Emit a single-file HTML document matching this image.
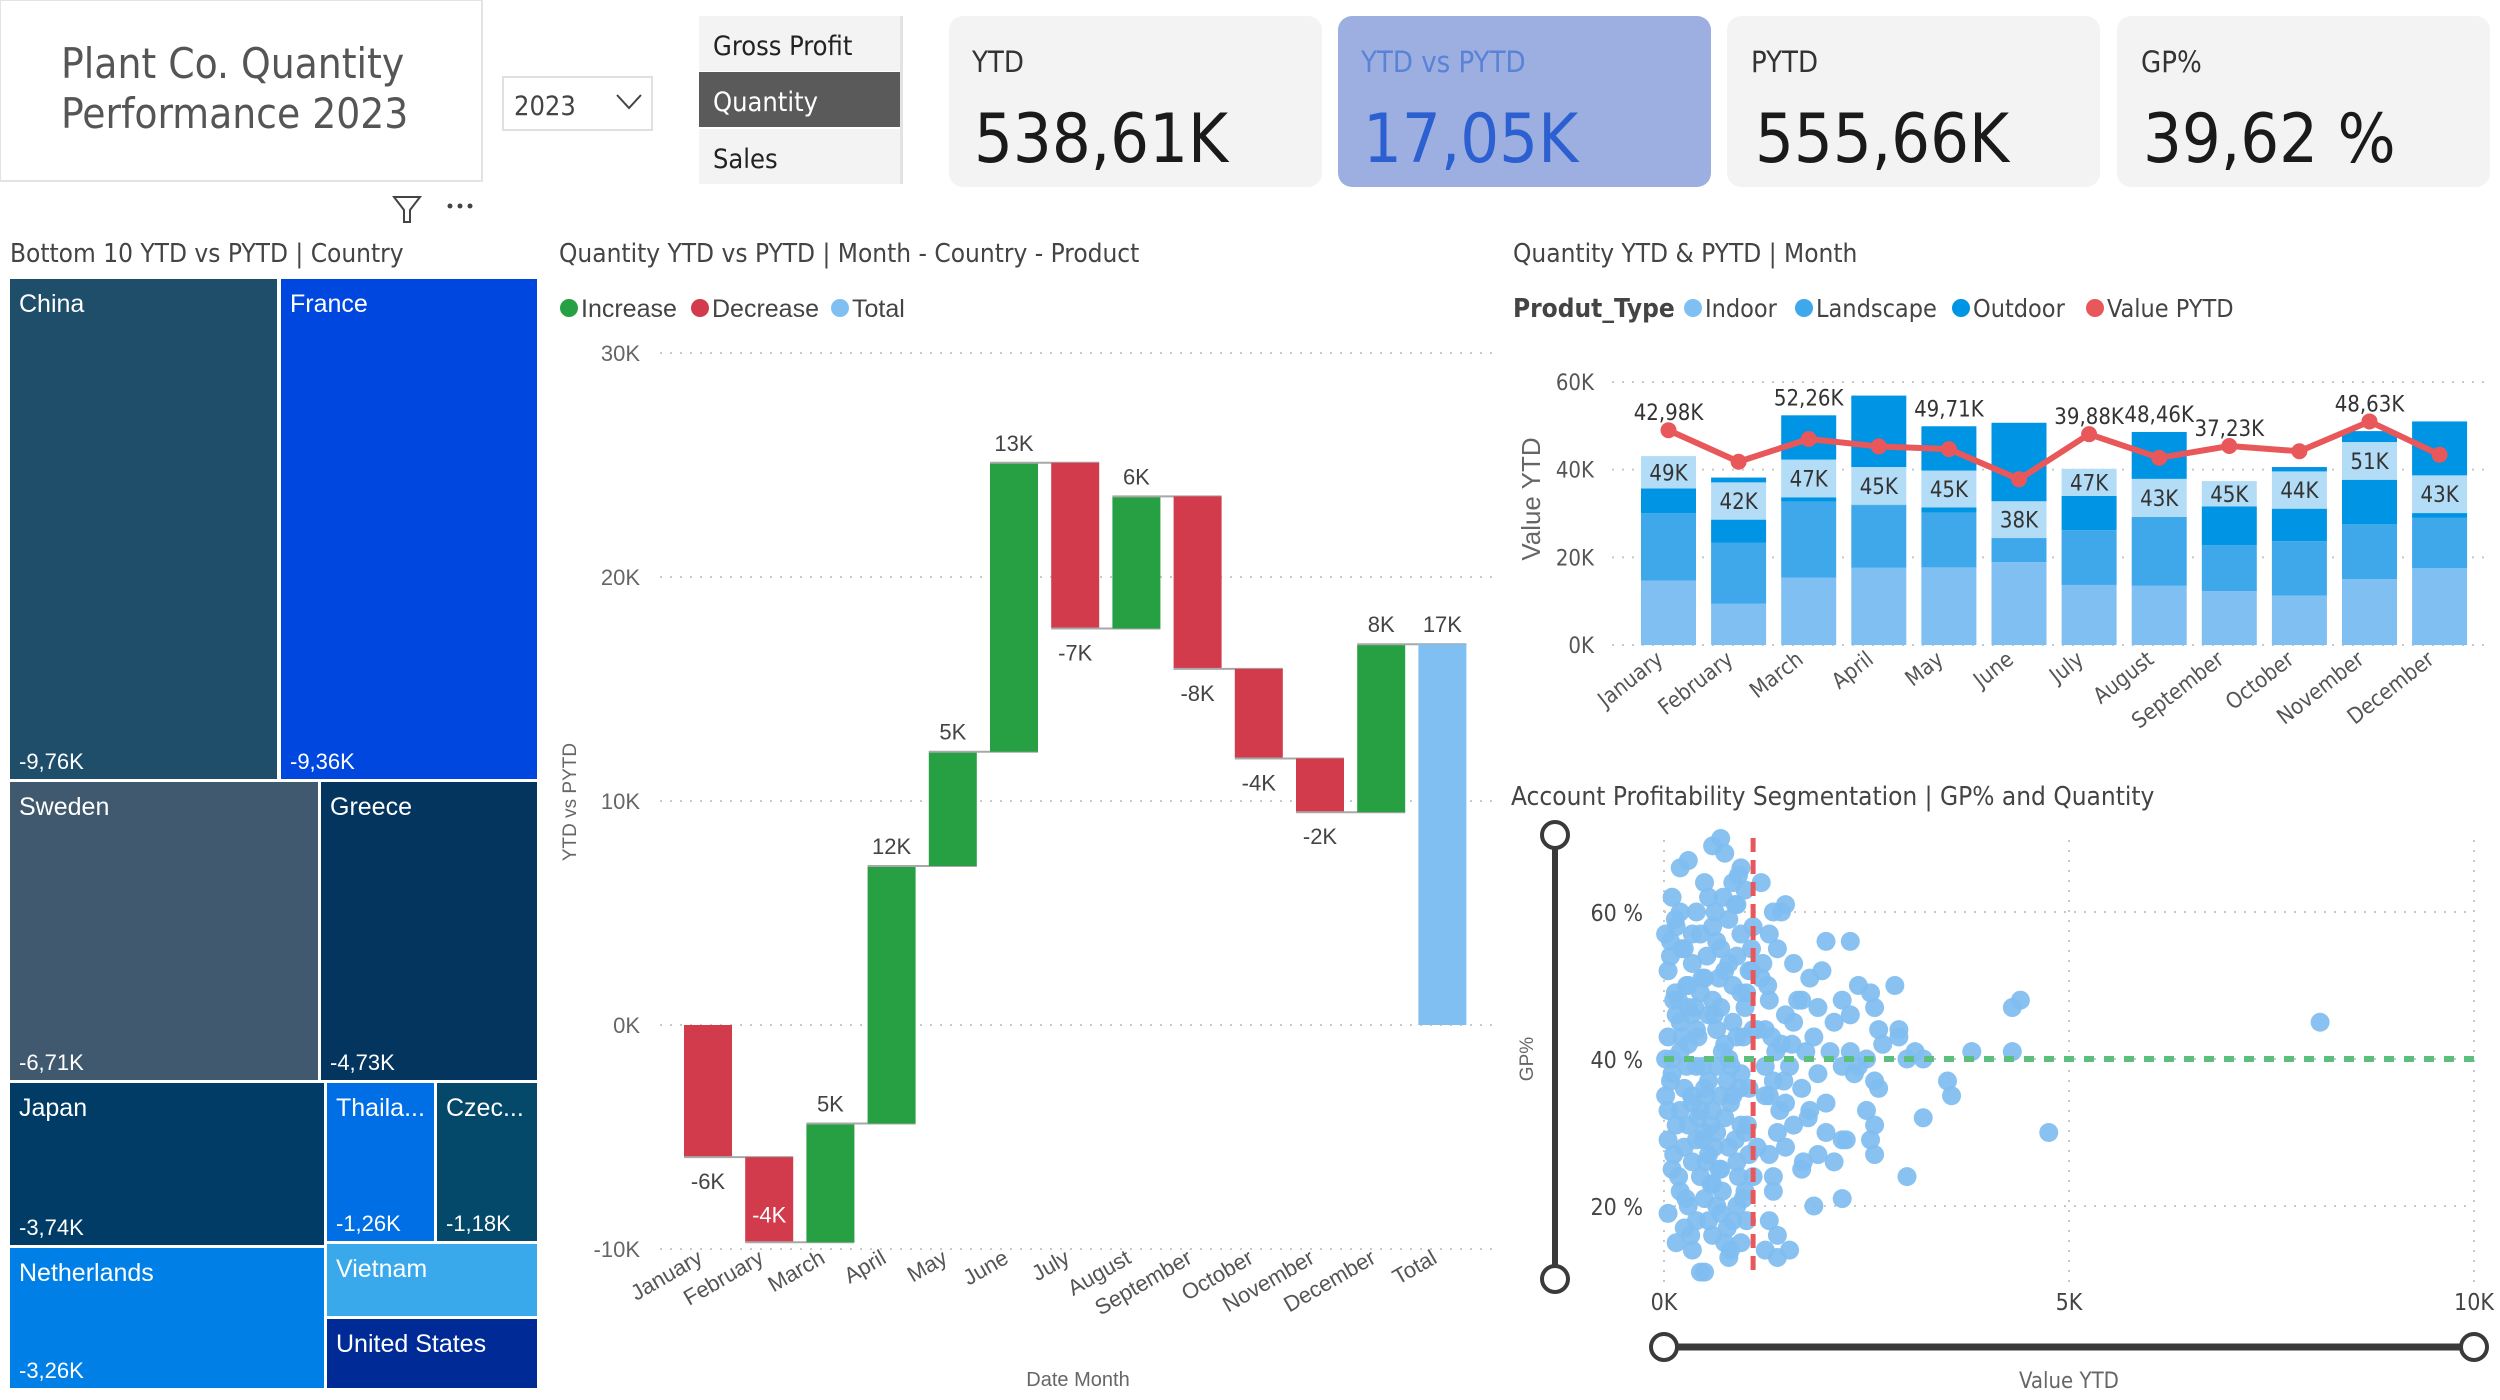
<!DOCTYPE html>
<html><head><meta charset="utf-8">
<style>
html,body{margin:0;padding:0;background:#fff;width:2500px;height:1400px;overflow:hidden}
svg{display:block;font-family:"Liberation Sans Narrow","DejaVu Sans Condensed","Liberation Sans",sans-serif}
.seg{font-family:"Liberation Sans","DejaVu Sans",sans-serif}
</style></head><body>
<svg id="root" width="2500" height="1400" viewBox="0 0 2500 1400" xmlns="http://www.w3.org/2000/svg">
 <g>
  <rect x="0" y="0" width="482" height="181" fill="#fff" stroke="#e3e3e3" stroke-width="2"/>
  <text x="61" y="78" font-size="42" fill="#555">Plant Co. Quantity</text>
  <text x="61" y="128" font-size="42" fill="#555">Performance 2023</text>
 </g>
 <g>
  <rect x="503" y="77" width="149" height="53" fill="#fff" stroke="#e0e0e0" stroke-width="2"/>
  <text x="514" y="115" font-size="27" fill="#444">2023</text>
  <path d="M617 95 L629 108 L641 95" fill="none" stroke="#444" stroke-width="2"/>
 </g>
 <g>
  <rect x="699" y="16" width="203" height="55" fill="#f3f3f3"/>
  <text x="713" y="55" font-size="27" fill="#222">Gross Profit</text>
  <rect x="699" y="72" width="203" height="55" fill="#5a5a5a"/>
  <text x="713" y="111" font-size="27" fill="#fff">Quantity</text>
  <rect x="699" y="129" width="203" height="55" fill="#f3f3f3"/>
  <text x="713" y="168" font-size="27" fill="#222">Sales</text>
  <rect x="900" y="16" width="3" height="168" fill="#e3e3e3"/>
 </g>
 <g>
  <rect x="949" y="16" width="373" height="171" rx="14" fill="#f3f3f3"/>
  <text x="972" y="72" font-size="29" fill="#333">YTD</text>
  <text x="974" y="162" font-size="68" fill="#1a1a1a">538,61K</text>
 </g>
 <g>
  <rect x="1338" y="16" width="373" height="171" rx="14" fill="#9cafe0"/>
  <text x="1361" y="72" font-size="29" fill="#5a82d6">YTD vs PYTD</text>
  <text x="1363" y="162" font-size="68" fill="#2c5fcf">17,05K</text>
 </g>
 <g>
  <rect x="1727" y="16" width="373" height="171" rx="14" fill="#f3f3f3"/>
  <text x="1751" y="72" font-size="29" fill="#333">PYTD</text>
  <text x="1755" y="162" font-size="68" fill="#1a1a1a">555,66K</text>
 </g>
 <g>
  <rect x="2117" y="16" width="373" height="171" rx="14" fill="#f3f3f3"/>
  <text x="2141" y="72" font-size="29" fill="#333">GP%</text>
  <text x="2143" y="162" font-size="68" fill="#1a1a1a">39,62 %</text>
 </g>
 <g><path d="M394 197 L420 197 L410 210 L410 222 L404 222 L404 210 Z" fill="none" stroke="#444" stroke-width="2"/></g>
 <g fill="#444"><circle cx="450" cy="206" r="2.5"/><circle cx="460" cy="206" r="2.5"/><circle cx="470" cy="206" r="2.5"/></g>

 <text x="10" y="262" font-size="26" fill="#444">Bottom 10 YTD vs PYTD | Country</text>
 <text x="559" y="262" font-size="26" fill="#444">Quantity YTD vs PYTD | Month - Country - Product</text>
 <text x="1513" y="262" font-size="26" fill="#444">Quantity YTD &amp; PYTD | Month</text>
 <text x="1511" y="805" font-size="26" fill="#444">Account Profitability Segmentation | GP% and Quantity</text>

 <g id="treemap" class="seg"></g>
 <g id="waterfall" class="seg"></g>
 <g id="stacked"></g>
 <g id="scatter"></g>
</svg>
<script>
const countries=["China","France","Sweden","Greece","Japan","Thaila...","Czec...","Netherlands","Vietnam","United States"];
const countryValues=["-9,76K","-9,36K","-6,71K","-4,73K","-3,74K","-1,26K","-1,18K","-3,26K","",""];
const countryColors=["#1f4e6b","#0047e0","#40596e","#03355f","#013c66","#006fe6","#04486a","#0080e6","#3aa9ec","#002b97"];

const wfMonths=["January","February","March","April","May","June","July","August","September","October","November","December","Total"];
const wfDeltas=[-5.9,-3.8,5.3,11.5,5.1,12.9,-7.4,5.9,-7.7,-4.0,-2.4,7.5];
const wfLabels=["-6K","-4K","5K","12K","5K","13K","-7K","6K","-8K","-4K","-2K","8K","17K"];
const wfTicks=[30,20,10,0,-10];

const months=["January","February","March","April","May","June","July","August","September","October","November","December"];
const indoor=[14.7,9.4,15.4,17.6,17.7,18.9,13.7,13.5,12.3,11.3,15.0,17.5];
const landscape=[15.4,13.9,17.3,14.3,12.5,5.5,12.5,15.7,10.5,12.4,12.6,11.5];
const outdoorLow=[5.6,5.3,1.0,0.1,1.2,0,7.8,0,8.8,7.4,10.1,1.1];
const otherPale=[7.4,8.5,8.6,8.6,8.4,8.4,6.2,8.7,5.8,8.5,8.6,8.6];
const outdoorTop=[0,1.1,10.1,16.3,10.1,17.9,0,10.7,0,1.0,2.5,12.3];
const paleLabels=["49K","42K","47K","45K","45K","38K","47K","43K","45K","44K","51K","43K"];
const pytd=[49,41.8,47,45.3,44.7,37.8,48.1,42.7,45.4,44.2,51,43.4];
const pytdLabels=["42,98K","","52,26K","","49,71K","","39,88K","48,46K","37,23K","","48,63K",""];
const stTicks=[0,20,40,60];

const scX=[0.1,0.2,0.3,0.15,0.25,0.05,0.12,0.2,0.3,0.4,0.5,0.6,0.7,0.75,0.55,0.45,0.35,0.65,0.8,0.9,1.0,0.95,0.85,0.5,0.6,0.7,0.4,0.3,0.2,0.1,0.25,0.35,0.45,0.55,0.65,0.75,0.85,0.95,1.05,0.9,0.8,0.7,0.6,0.15,0.25,0.35,0.45,0.55,0.65,0.75,0.85,0.95,1.05,0.1,0.2,0.3,0.4,0.5,0.6,0.7,0.8,0.9,1.0,1.0,0.05,0.15,0.25,0.35,0.45,0.5,0.6,0.7,0.8,0.9,0.95,1.1,1.1,1.1,0.05,0.15,0.3,0.4,0.5,0.6,0.7,0.8,0.9,1.0,0.65,0.55,0.45,0.35,0.2,0.85,0.75,0.95,0.5,0.4,0.3,0.2,0.65,0.55,0.75,0.85,1.05,0.95,
1.2,1.35,1.5,1.3,1.4,1.6,1.8,1.95,2.0,1.7,1.5,1.3,1.25,1.45,1.6,1.9,2.1,2.2,2.3,1.75,1.55,1.35,1.25,1.5,1.7,1.9,2.0,2.2,2.4,1.4,1.6,1.8,2.0,2.2,1.3,1.5,1.7,1.9,2.1,1.35,1.3,1.4,1.55,1.85,2.2,2.25,1.25,1.4,
2.3,2.4,2.55,2.6,2.65,2.7,2.85,2.6,2.65,2.5,2.6,2.55,2.3,2.35,2.5,2.9,2.9,3.1,3.2,3.0,3.2,3.5,3.55,3.0,2.6,3.8,4.3,4.3,4.4,4.75,8.1,2.05,1.85,0.05,0.1,0.02,0.08,0.18,
0.02,0.08,0.14,0.22,0.28,0.34,0.42,0.48,0.52,0.58,0.62,0.68,0.72,0.78,0.82,0.88,0.92,0.98,1.02,1.08,0.02,0.08,0.14,0.22,0.28,0.34,0.42,0.48,0.52,0.58,0.62,0.68,0.72,0.78,0.82,0.88,0.92,0.98,1.02,1.08,0.05,0.12,0.18,0.27,0.33,0.38,0.47,0.53,0.63,0.73,0.83,0.93,1.03,1.15,1.22,1.28,1.33,1.38,1.43,1.48,1.58,1.65,1.72,1.78,1.15,1.2,1.25,1.3,1.35,1.45];
const scY=[62,66,67,58,55,52,48,45,50,60,64,69,70,68,62,57,53,56,59,61,63,66,64,51,48,47,44,42,41,38,36,34,33,37,39,42,45,49,52,54,53,55,58,31,28,26,24,27,30,32,35,38,36,25,22,20,18,21,23,25,28,26,22,30,19,15,17,14,11,11,16,19,13,20,15,24,44,58,43,46,47,39,36,33,35,40,43,47,44,46,49,57,60,50,52,57,30,29,31,33,20,18,15,18,27,31,
64,60,61,57,55,53,51,52,56,48,46,48,44,42,45,47,45,48,46,41,39,37,35,34,36,38,34,39,39,30,31,33,30,29,27,28,25,27,26,22,18,16,14,20,21,29,14,13,
56,50,49,47,44,42,50,37,36,33,31,29,41,38,40,43,44,41,40,40,32,37,35,24,27,41,41,47,48,30,45,41,43,29,40,35,56,48,
57,54,49,43,39,35,32,29,26,23,46,51,41,37,34,29,24,21,18,55,40,37,59,55,50,46,43,39,35,31,28,25,22,17,14,61,65,43,49,52,33,27,24,21,16,47,51,54,60,62,39,36,31,28,53,50,43,41,33,37,42,48,26,32,44,51,39,35,24,60];
const scYTicks=[60,40,20];
const scXTicks=[0,5,10];
const scXTickLabels=["0K","5K","10K"];
const avgValue=1.1, avgGP=40;

const NS="http://www.w3.org/2000/svg";
function mk(parent,tag,attrs,txt){const e=document.createElementNS(NS,tag);for(const k in attrs)e.setAttribute(k,attrs[k]);if(txt!==undefined)e.textContent=txt;parent.appendChild(e);return e;}

(function(){
 const g=document.getElementById('treemap');
 const boxes=[[10,279,267,500],[281,279,256,500],[10,782,308,298],[321,782,216,298],[10,1083,314,162],[327,1083,107,158],[437,1083,100,158],[10,1248,314,140],[327,1244,210,72],[327,1319,210,69]];
 countries.forEach((c,i)=>{
  const b=boxes[i];
  const r=mk(g,'rect',{x:b[0],y:b[1],width:b[2],height:b[3],fill:countryColors[i]});
  
  
  const t=mk(g,'text',{x:b[0]+9,y:b[1]+33,'font-size':25,fill:'#fff'},c);
  
  
  if(countryValues[i]){const v=mk(g,'text',{x:b[0]+9,y:b[1]+b[3]-10,'font-size':22,fill:'#fff'},countryValues[i]);
   
   }
 });
})();

(function(){
 const g=document.getElementById('waterfall');
 const y=v=>1025-v*22.4;
 const x=i=>684+i*61.2, bw=48;
 wfTicks.forEach(t=>{
  const l=mk(g,'line',{x1:660,x2:1495,y1:y(t),y2:y(t),stroke:'#c8c8c8','stroke-width':2,'stroke-dasharray':'2,8'});
  
  
  const tx=mk(g,'text',{x:640,y:y(t)+8,'font-size':22,fill:'#666','text-anchor':'end'},t+'K');
  
  
 });
 [["Increase","#27a043",569],["Decrease","#d13b4b",700],["Total","#7fbff2",840]].forEach(L=>{
  const c=mk(g,'circle',{cx:L[2],cy:308,r:9,fill:L[1]});
  
  
  mk(g,'text',{x:L[2]+12,y:317,'font-size':25,fill:'#444'},L[0]);
 });
 let run=0;
 wfDeltas.forEach((d,i)=>{
  const a=run,b=run+d;run=b;
  const top=Math.max(a,b),bot=Math.min(a,b);
  const r=mk(g,'rect',{x:x(i),y:y(top),width:bw,height:y(bot)-y(top),fill:d>=0?'#27a043':'#d13b4b'});
  
  
  const ln=mk(g,'line',{x1:x(i),x2:x(i+1)+bw,y1:y(b),y2:y(b),stroke:'#a8a8a8','stroke-width':2});
  
  
  let ly,fill='#444';
  if(d>=0) ly=y(top)-12; else {ly=y(bot)+32; if(y(bot)+32>y(-9.2)){ly=y(bot)-20;fill='#fff';}}
  const t=mk(g,'text',{x:x(i)+bw/2,y:ly,'font-size':22,fill:fill,'text-anchor':'middle'},wfLabels[i]);
  
  
 });
 const ti=wfDeltas.length;
 const tr=mk(g,'rect',{x:x(ti),y:y(Math.max(run,0)),width:bw,height:Math.abs(y(run)-y(0)),fill:'#7fbff2'});
 
 
 const tt=mk(g,'text',{x:x(ti)+bw/2,y:y(run)-12,'font-size':22,fill:'#444','text-anchor':'middle'},wfLabels[ti]);
 
 
 wfMonths.forEach((m,i)=>{
  const cx=x(i)+bw/2-4, cy=1262;
  const t=mk(g,'text',{x:cx,y:cy,'font-size':22,fill:'#555','text-anchor':'end',transform:`rotate(-30 ${cx} ${cy})`},m);
  
  
 });
 const yt=mk(g,'text',{x:576,y:802,'font-size':19,fill:'#666','text-anchor':'middle',transform:'rotate(-90 576 802)'},'YTD vs PYTD');
 
 
 const xt=mk(g,'text',{x:1078,y:1386,'font-size':20,fill:'#666','text-anchor':'middle'},'Date Month');
 
 
})();

(function(){
 const g=document.getElementById('stacked');
 const y=v=>645-v*(263/60);
 const x=i=>1641+i*70.1, bw=55;
 stTicks.forEach(t=>{
  const l=mk(g,'line',{x1:1612,x2:2490,y1:y(t),y2:y(t),stroke:'#c8c8c8','stroke-width':2,'stroke-dasharray':'2,8'});
  
  
  const tx=mk(g,'text',{x:1594,y:y(t)+8,'font-size':22,fill:'#555','text-anchor':'end'},t+'K');
  
  
 });
 const yt=mk(g,'text',{x:1540,y:499,'font-size':26,fill:'#666','text-anchor':'middle',transform:'rotate(-90 1540 499)',class:'seg'},'Value YTD');
 
 
 mk(g,'text',{x:1513,y:317,'font-size':26,fill:'#444','font-weight':'bold'},'Produt_Type');
 [["Indoor","#7fbff2",1693],["Landscape","#3ea8ea",1804],["Outdoor","#0094e4",1961],["Value PYTD","#e8585a",2095]].forEach(L=>{
  const c=mk(g,'circle',{cx:L[2],cy:308,r:9,fill:L[1]});
  
  
  mk(g,'text',{x:L[2]+12,y:317,'font-size':25,fill:'#444'},L[0]);
 });
 const series=[[indoor,'#7fbff2'],[landscape,'#3ea8ea'],[outdoorLow,'#0094e4'],[otherPale,'#b3dcf7'],[outdoorTop,'#0094e4']];
 months.forEach((m,i)=>{
  let acc=0,paleBot=0,paleTop=0;
  series.forEach((s,k)=>{
   const v=s[0][i]; if(v<=0){return;}
   const r=mk(g,'rect',{x:x(i),y:y(acc+v),width:bw,height:y(acc)-y(acc+v),fill:s[1]});
   
   
   if(k===3){paleBot=acc;paleTop=acc+v;}
   acc+=v;
  });
  const lt=mk(g,'text',{x:x(i)+bw/2,y:(y(paleBot)+y(paleTop))/2+8,'font-size':22,fill:'#333','text-anchor':'middle'},paleLabels[i]);
  
  
  if(pytdLabels[i]){
   const top=Math.max(acc,pytd[i]);
   const pl=mk(g,'text',{x:x(i)+bw/2,y:y(top)-10,'font-size':22,fill:'#333','text-anchor':'middle'},pytdLabels[i]);
   
   
  }
  const cx=x(i)+bw/2-4, cy=662;
  const t=mk(g,'text',{x:cx,y:cy,'font-size':22,fill:'#555','text-anchor':'end',transform:`rotate(-38 ${cx} ${cy})`},m);
  
  
 });
 const pts=pytd.map((v,i)=>(x(i)+bw/2)+','+y(v)).join(' ');
 const pl=mk(g,'polyline',{points:pts,fill:'none',stroke:'#e8585a','stroke-width':6,'stroke-linejoin':'round'});
 
 
 pytd.forEach((v,i)=>{
  const c=mk(g,'circle',{cx:x(i)+bw/2,cy:y(v),r:8,fill:'#e8585a'});
  
  
 });
})();

(function(){
 const g=document.getElementById('scatter');
 const x=v=>1664+v*81;
 const y=v=>1059-(v-40)*7.35;
 scYTicks.forEach(t=>{
  const l=mk(g,'line',{x1:1664,x2:2474,y1:y(t),y2:y(t),stroke:'#c8c8c8','stroke-width':2,'stroke-dasharray':'2,8'});
  
  
  const tx=mk(g,'text',{x:1643,y:y(t)+9,'font-size':23,fill:'#444','text-anchor':'end'},t+' %');
  
  
 });
 scXTicks.forEach((t,i)=>{
  const l=mk(g,'line',{x1:x(t),x2:x(t),y1:840,y2:1285,stroke:'#c8c8c8','stroke-width':2,'stroke-dasharray':'2,8'});
  
  
  const tx=mk(g,'text',{x:x(t),y:1310,'font-size':23,fill:'#444','text-anchor':'middle'},scXTickLabels[i]);
  
  
 });
 scX.forEach((v,i)=>{
  const c=mk(g,'circle',{cx:x(v),cy:y(scY[i]),r:9.5,fill:'#7fbdf0','fill-opacity':0.92});
  
  
 });
 const av=mk(g,'line',{x1:x(avgValue),x2:x(avgValue),y1:838,y2:1278,stroke:'#e8585a','stroke-width':5,'stroke-dasharray':'14,8'});
 
 
 const ag=mk(g,'line',{x1:1664,x2:2474,y1:y(avgGP),y2:y(avgGP),stroke:'#5cbf7e','stroke-width':6,'stroke-dasharray':'10,10'});
 
 
 const vs=mk(g,'g',{});
 
 
 mk(vs,'line',{x1:1555,x2:1555,y1:835,y2:1279,stroke:'#3a3a3a','stroke-width':6});
 mk(vs,'circle',{cx:1555,cy:835,r:13,fill:'#fff',stroke:'#3a3a3a','stroke-width':4});
 mk(vs,'circle',{cx:1555,cy:1279,r:13,fill:'#fff',stroke:'#3a3a3a','stroke-width':4});
 const hs=mk(g,'g',{});
 
 
 mk(hs,'line',{x1:1664,x2:2474,y1:1347,y2:1347,stroke:'#3a3a3a','stroke-width':7});
 mk(hs,'circle',{cx:1664,cy:1347,r:13,fill:'#fff',stroke:'#3a3a3a','stroke-width':4});
 mk(hs,'circle',{cx:2474,cy:1347,r:13,fill:'#fff',stroke:'#3a3a3a','stroke-width':4});
 const yt=mk(g,'text',{x:1533,y:1059,'font-size':19,fill:'#666','text-anchor':'middle',transform:'rotate(-90 1533 1059)',class:'seg'},'GP%');
 
 
 const xt=mk(g,'text',{x:2069,y:1388,'font-size':22,fill:'#666','text-anchor':'middle'},'Value YTD');
 
 
})();
</script>
</body></html>
